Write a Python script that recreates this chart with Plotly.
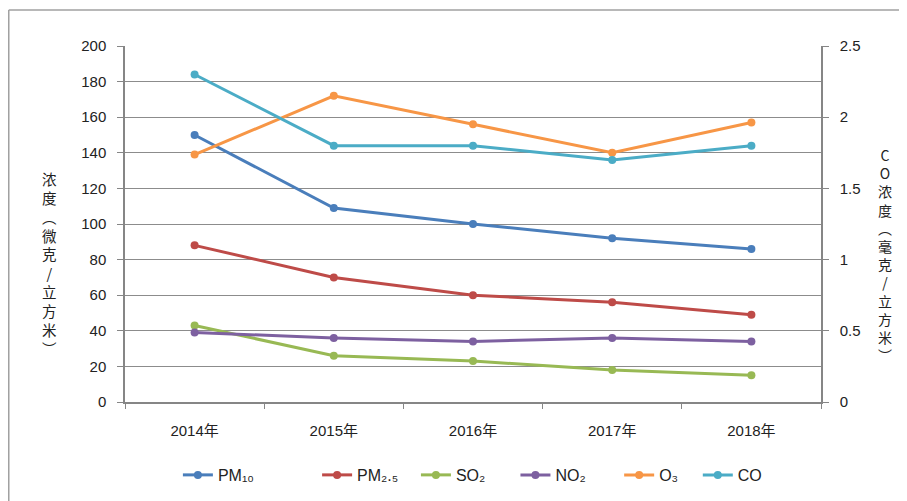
import plotly.graph_objects as go

years = ["2014年", "2015年", "2016年", "2017年", "2018年"]
pm10 = [150, 109, 100, 92, 86]
pm25 = [88, 70, 60, 56, 49]
so2 = [43, 26, 23, 18, 15]
no2 = [39, 36, 34, 36, 34]
o3 = [139, 172, 156, 140, 157]
co = [2.3, 1.8, 1.8, 1.7, 1.8]

names = ["PM₁₀", "PM₂.₅", "SO₂", "NO₂", "O₃", "CO"]
colors = ["#4A7EBB", "#BE4B48", "#98B954", "#7D60A0", "#F79646", "#4BACC6"]
series = [pm10, pm25, so2, no2, o3, co]
legend_x = [0.076, 0.276, 0.418, 0.561, 0.71, 0.823]

FONT = "Liberation Sans, Noto Sans CJK SC, sans-serif"

fig = go.Figure()
for i, (n, c, v) in enumerate(zip(names, colors, series)):
    lg = "legend" if i == 0 else f"legend{i+1}"
    fig.add_trace(go.Scatter(
        x=years, y=v, name=n, mode="lines+markers",
        line=dict(color=c, width=3),
        marker=dict(color=c, size=8),
        yaxis="y2" if n == "CO" else "y",
        legend=lg,
    ))

legends = {}
for i, lx in enumerate(legend_x):
    key = "legend" if i == 0 else f"legend{i+1}"
    legends[key] = dict(x=lx, y=-0.205, xanchor="left", yanchor="middle",
                        orientation="h", font=dict(family=FONT, size=16, color="#222"),
                        bgcolor="rgba(0,0,0,0)", itemwidth=30)

left_title = "<br>".join(list("浓度︵微克/立方米︶"))
right_title = "<br>".join(["C", "O"] + list("浓度︵毫克/立方米︶"))

fig.update_layout(
    width=907, height=501,
    margin=dict(l=117, r=94, t=38, b=107, autoexpand=False),
    paper_bgcolor="white", plot_bgcolor="white",
    font=dict(family=FONT, size=14, color="#222"),
    showlegend=True,
    xaxis=dict(type="category", range=[-0.5, 4.5], showline=True, linecolor="#868686", linewidth=1.5,
               ticks="outside", tickson="boundaries", ticklen=5, tickcolor="#868686",
               showgrid=False, ticklabelstandoff=14,
               tickfont=dict(family=FONT, size=15, color="#222")),
    yaxis=dict(range=[0, 200], dtick=20, showline=True, linecolor="#868686", linewidth=1.5,
               ticks="outside", ticklen=6, tickcolor="#868686",
               showgrid=True, gridcolor="#8C8C8C", gridwidth=1, zeroline=False,
               ticklabelstandoff=8,
               tickfont=dict(family=FONT, size=15, color="#222")),
    yaxis2=dict(range=[0, 2.5], dtick=0.5, overlaying="y", side="right",
                showline=True, linecolor="#868686", linewidth=1.5,
                ticks="outside", ticklen=6, tickcolor="#868686",
                showgrid=False, zeroline=False, ticklabelstandoff=8,
                tickfont=dict(family=FONT, size=15, color="#222")),
    annotations=[
        dict(text=left_title, xref="paper", yref="paper", x=-0.108, y=0.39,
             xanchor="center", yanchor="middle", showarrow=False,
             font=dict(family="Noto Sans CJK SC", size=14.5, color="#222")),
        dict(text=right_title, xref="paper", yref="paper", x=1.092, y=0.413,
             xanchor="center", yanchor="middle", showarrow=False,
             font=dict(family="Noto Sans CJK SC", size=14, color="#222")),
    ],
    shapes=[
        dict(type="line", xref="paper", yref="paper", x0=-0.167, x1=1.2, y0=1.101, y1=1.101,
             line=dict(color="#A0A0A0", width=1.5)),
        dict(type="line", xref="paper", yref="paper", x0=-0.167, x1=-0.167, y0=1.101, y1=-0.3,
             line=dict(color="#A0A0A0", width=1.5)),
    ],
    **legends,
)

fig.write_html("out.html")
